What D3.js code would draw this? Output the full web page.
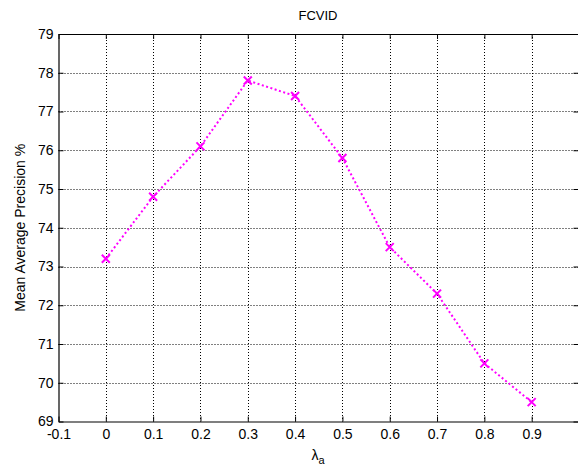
<!doctype html>
<html>
<head>
  <meta charset="utf-8">
  <title>FCVID</title>
  <style>
    body { margin: 0; background: #fff; }
    text { font-family: "Liberation Sans", Arial, sans-serif; fill: #000; }
  </style>
</head>
<body>
  <div id="vis"></div>
  <script src="https://d3js.org/d3.v7.min.js"></script>
  <script>
    // values
    var lambdas = [0, 0.1, 0.2, 0.3, 0.4, 0.5, 0.6, 0.7, 0.8, 0.9];
    var map = [73.2, 74.8, 76.1, 77.8, 77.4, 75.8, 73.5, 72.3, 70.5, 69.5];
    var xTicks = [-0.1, 0, 0.1, 0.2, 0.3, 0.4, 0.5, 0.6, 0.7, 0.8, 0.9, 1];
    var yTicks = [69, 70, 71, 72, 73, 74, 75, 76, 77, 78, 79];

    var w = 578, h = 466;
    // plot box (note: "top" is a reserved window property, so use mTop etc.)
    var mLeft = 58.5, mRight = 579, mTop = 34, mBottom = 421.5;

    var svg = d3.select("#vis").append("svg")
      .attr("width", w).attr("height", h);

    var x = d3.scaleLinear().domain([-0.1, 1]).range([mLeft, mRight]);
    var y = d3.scaleLinear().domain([69, 79]).range([mBottom, mTop]);

    // grid
    svg.append("g").selectAll("line").data(xTicks.slice(1, -1)).enter()
      .append("line")
      .attr("x1", function(d){ return Math.round(x(d)) + 0.5; })
      .attr("x2", function(d){ return Math.round(x(d)) + 0.5; })
      .attr("y1", mTop).attr("y2", mBottom)
      .attr("stroke", "#000").attr("stroke-width", 1)
      .attr("stroke-dasharray", "1,2");

    svg.append("g").selectAll("line").data(yTicks.slice(1, -1)).enter()
      .append("line")
      .attr("y1", function(d){ return Math.round(y(d)) + 0.5; })
      .attr("y2", function(d){ return Math.round(y(d)) + 0.5; })
      .attr("x1", mLeft).attr("x2", mRight)
      .attr("stroke", "#000").attr("stroke-width", 1)
      .attr("stroke-dasharray", "1,2");

    // axes
    var fmt = function(d){ return d === 1 ? "" : String(+d.toFixed(1)); };
    var xAxis = d3.axisBottom(x).tickValues(xTicks)
      .tickSizeInner(-5).tickSizeOuter(0).tickPadding(8)
      .tickFormat(fmt);
    var gx = svg.append("g").attr("transform", "translate(0," + mBottom + ")").call(xAxis);

    var xTop = d3.axisTop(x).tickValues(xTicks)
      .tickSizeInner(-5).tickSizeOuter(0).tickFormat("");
    var gxt = svg.append("g").attr("transform", "translate(0," + mTop + ")").call(xTop);

    var yAxis = d3.axisLeft(y).tickValues(yTicks)
      .tickSizeInner(-5).tickSizeOuter(0).tickPadding(5);
    var gy = svg.append("g").attr("transform", "translate(" + mLeft + ",0)").call(yAxis);

    var yRight = d3.axisRight(y).tickValues(yTicks)
      .tickSizeInner(-5).tickSizeOuter(0).tickFormat("");
    var gyr = svg.append("g").attr("transform", "translate(" + (mRight - 0.5) + ",0)").call(yRight);

    [gx, gxt, gy, gyr].forEach(function(g){
      g.select(".domain").attr("stroke", "#000").attr("stroke-width", 1.2);
      g.selectAll(".tick line").attr("stroke", "#000");
      g.selectAll("text").attr("font-size", 14).attr("fill", "#000")
        .style("font-family", "'Liberation Sans', Arial, sans-serif");
    });

    // line
    var line = d3.line()
      .x(function(d, i){ return x(lambdas[i]); })
      .y(function(d){ return y(d); });

    svg.append("path").datum(map)
      .attr("d", line)
      .attr("fill", "none")
      .attr("stroke", "#ff00ff")
      .attr("stroke-width", 2)
      .attr("stroke-dasharray", "2,2.5");

    // x markers
    var s = 4;
    svg.append("g").selectAll("path").data(map).enter()
      .append("path")
      .attr("d", function(d, i){
        var cx = x(lambdas[i]), cy = y(d);
        return "M" + (cx - s) + "," + (cy - s) + "L" + (cx + s) + "," + (cy + s) +
               "M" + (cx - s) + "," + (cy + s) + "L" + (cx + s) + "," + (cy - s);
      })
      .attr("stroke", "#ff00ff")
      .attr("stroke-width", 2)
      .attr("fill", "none");

    // labels
    svg.append("text")
      .attr("x", 318).attr("y", 20)
      .attr("text-anchor", "middle")
      .attr("font-size", 13)
      .text("FCVID");

    var xl = svg.append("text")
      .attr("x", 318).attr("y", 460)
      .attr("text-anchor", "middle")
      .attr("font-size", 14);
    xl.append("tspan").text("λ");
    xl.append("tspan").attr("dy", 4).attr("font-size", 11).text("a");

    svg.append("text")
      .attr("transform", "translate(25," + ((mTop + mBottom) / 2) + ") rotate(-90)")
      .attr("text-anchor", "middle")
      .attr("font-size", 14)
      .text("Mean Average Precision %");
  </script>
</body>
</html>
